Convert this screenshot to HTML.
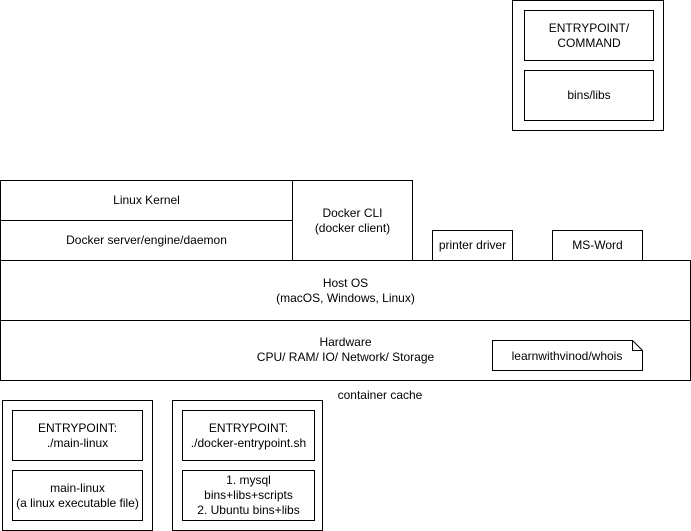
<!DOCTYPE html>
<html><head><style>
body{margin:0;width:691px;height:531px;background:#fff;position:relative;font-family:"Liberation Sans",Arial,sans-serif;font-size:12px;color:#000}
.b{position:absolute;border:1px solid #000;box-sizing:border-box;display:flex;align-items:center;justify-content:center;text-align:center;line-height:15px;background:#fff}
.t{position:absolute;text-align:center}
</style></head><body>
<div class="b" style="left:512px;top:0;width:152px;height:131px"></div>
<div class="b" style="left:524px;top:10px;width:130px;height:51px">ENTRYPOINT/<br>COMMAND</div>
<div class="b" style="left:524px;top:70px;width:130px;height:51px">bins/libs</div>

<div class="b" style="left:0;top:180px;width:293px;height:41px">Linux Kernel</div>
<div class="b" style="left:0;top:220px;width:293px;height:41px">Docker server/engine/daemon</div>
<div class="b" style="left:292px;top:180px;width:121px;height:81px">Docker CLI<br>(docker client)</div>
<div class="b" style="left:432px;top:230px;width:81px;height:31px">printer driver</div>
<div class="b" style="left:552px;top:230px;width:91px;height:31px">MS-Word</div>
<div class="b" style="left:0;top:260px;width:691px;height:61px">Host OS<br>(macOS, Windows, Linux)</div>
<div class="b" style="left:0;top:320px;width:691px;height:61px;padding-bottom:2px">Hardware<br>CPU/ RAM/ IO/ Network/ Storage</div>
<svg style="position:absolute;left:0;top:0" width="691" height="531">
<path d="M492.5 340.5 H632.5 L642.5 350.5 V370.5 H492.5 Z" fill="#fff" stroke="#000"/>
<path d="M632.5 340.5 V350.5 H642.5" fill="none" stroke="#000"/>
<text x="567" y="360" text-anchor="middle" font-family="Liberation Sans,Arial,sans-serif" font-size="12">learnwithvinod/whois</text>
</svg>
<div class="t" style="left:320px;top:388px;width:120px">container cache</div>

<div class="b" style="left:2px;top:400px;width:151px;height:131px"></div>
<div class="b" style="left:12px;top:410px;width:131px;height:51px">ENTRYPOINT:<br>./main-linux</div>
<div class="b" style="left:12px;top:470px;width:131px;height:51px">main-linux<br>(a linux executable file)</div>

<div class="b" style="left:172px;top:400px;width:151px;height:131px"></div>
<div class="b" style="left:182px;top:410px;width:133px;height:51px">ENTRYPOINT:<br>./docker-entrypoint.sh</div>
<div class="b" style="left:182px;top:470px;width:133px;height:51px">1. mysql<br>bins+libs+scripts<br>2. Ubuntu bins+libs</div>
</body></html>
